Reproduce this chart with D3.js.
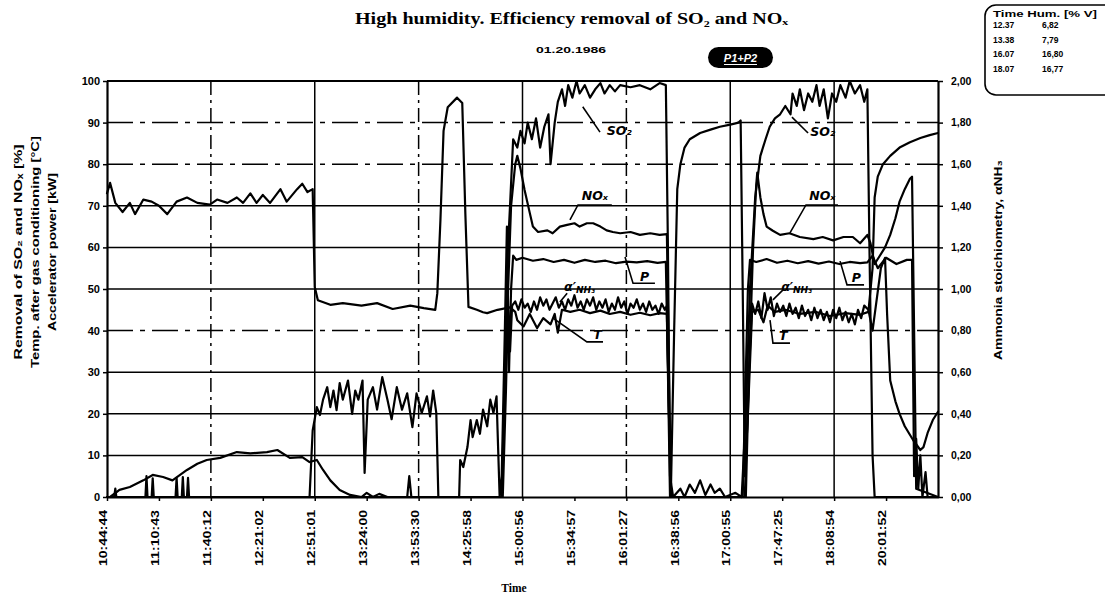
<!DOCTYPE html>
<html>
<head>
<meta charset="utf-8">
<script src="https://cdn.jsdelivr.net/npm/d3@7"></script>
<style>
  body { margin: 0; background: #fff; }
  svg { display: block; }
  .tick text { font-family: "Liberation Sans", Arial, sans-serif; font-weight: bold; fill: #000; }
</style>
</head>
<body>
<svg id="chart" width="1105" height="595"></svg>
<script>
// ---- time axis: logged samples, one label every 50 samples ----
const timeLabels = ["10:44:44","11:10:43","11:40:12","12:21:02","12:51:01","13:24:00","13:53:30","14:25:58",
                    "15:00:56","15:34:57","16:01:27","16:38:56","17:00:55","17:47:25","18:08:54","20:01:52"];
const labelEvery = 50;
const sampleTotal = 800;
const gridEvery = 100;

// ---- value axes ----
const leftTicks = [0,10,20,30,40,50,60,70,80,90,100];
const rightTicks = [0,0.2,0.4,0.6,0.8,1.0,1.2,1.4,1.6,1.8,2.0];

// ---- humidity table ----
const humidityRows = [["12.37","6,82"],["13.38","7,79"],["16.07","16,80"],["18.07","16,77"]];

// ---- series: [sample, value] ----
// temperature after gas conditioning [°C]
const tempGas = [[0,73],[3,75.5],[8,70.7],[15,68.5],[22,70.7],[27,68],[35,71.5],[43,71],[50,70],[58,68],[67,71],[77,72],
  [87,70.7],[99,70.3],[106,71.5],[116,70.7],[125,72],[131,70.7],[138,73],[144,70.7],[150,72.6],[157,70.7],[167,74],
  [173,71],[183,74],[188,75.3],[193,73.3],[198,74],[200,50.5],[203,47.3],[215,46.2],[227,46.6],[245,46],[260,46.6],
  [275,45.2],[292,46],[305,45.4],[316,45],[318,49],[321,66.6],[324,88],[328,93.7],[337,96],[342,94.7],[345,68],
  [348,45.7],[356,45],[362,44.4],[366,44.2],[376,45],[388,45.6],[393,44.5],[395,42.5],[401,41],[407,44],[414,40.6],
  [420,43],[427,41.5],[431,44],[434,39.5],[438,45],[446,44.5],[455,45],[465,44.2],[475,44.8],[484,44],[494,44.5],
  [504,43.8],[513,44.3],[523,43.7],[532,44.2],[539,44],[541,20],[543,3],[546,40],[549,74],[552,80],[556,84],[561,86],
  [571,87.5],[581,88.3],[590,89],[600,89.5],[608,90],[610,90.5],[612,50],[614,5],[617,20],[621,44.5],[627,45],
  [632,42],[636,46],[643,44.5],[653,45],[667,44],[682,44.5],[696,43.5],[711,44.2],[725,43.8],[733,44.5],[737,55],
  [739,72],[742,77],[747,80],[754,82],[763,84],[773,85.3],[783,86.3],[792,87],[800,87.5]];

// SO2 removal [%]
const removalSO2 = [[0,0],[289,0],[291,5],[293,0],[380,0],[383,30],[386,60],[388,70],[391,86],[395,84],[398,88],
  [402,85],[405,90],[409,86],[413,91],[417,84],[421,89],[425,92],[427,80],[431,90],[434,95],[438,98],[441,94],
  [444,99],[448,96],[452,100],[455,97],[460,99],[465,96],[470,98],[475,99.5],[479,97],[484,99],[489,97.5],
  [494,99],[504,98.5],[513,99],[523,98],[532,99.5],[538,99],[540,60],[542,5],[545,0],[552,2],[556,0],[561,3],
  [566,1],[571,4],[576,0.5],[581,3],[585,1],[590,2],[595,0],[605,1],[611,0],[615,20],[619,50],[624,72],[629,82],
  [634,86],[638,89],[643,91],[648,92],[653,94],[658,92],[660,97],[664,94],[667,98],[671,93],[675,97],[679,95],
  [683,99],[686,94],[690,98],[694,91],[698,97],[702,95],[706,99],[711,96],[715,100],[720,97],[725,99],[729,95],
  [732,98],[734,60],[737,10],[739,0],[800,0]];

// NOx removal [%]
const removalNOx = [[0,0],[380,0],[384,35],[389,70],[393,80],[395,82],[398,79],[402,73.8],[407,68.3],[410,65],
  [415,63.7],[424,64.1],[429,63.4],[436,65],[443,65.4],[450,65.8],[455,65],[462,65.8],[468,65.8],[475,65],
  [481,64.1],[487,63.7],[494,63.4],[504,63.7],[513,63],[523,63.4],[532,63],[539,63.2],[541,30],[543,0],[614,0],
  [618,30],[622,60],[625,75],[626,78],[629,72],[632,68],[635,65],[641,64],[648,63],[657,63.4],[667,62.5],[680,62],
  [689,62.5],[699,61.7],[709,62.5],[718,62.5],[725,61],[732,63],[735,61],[739,56],[744,58],[749,60],[754,63],
  [759,67],[763,71],[768,74],[773,76.5],[775,77],[777,40],[779,2],[800,0]];

// accelerator power [kW]
const powerAcc = [[0,0],[7,0],[8,2],[9,0],[37,0],[38,5],[39,0],[43,0],[44,4.5],[45,0],[66,0],[67,4.6],[68,0],[72,0],
  [73,4.8],[74,0],[77,0],[78,4.6],[79,0],[195,0],[198,16],[202,21.6],[205,19.7],[208,23.4],[212,26.4],[215,21.6],
  [218,25.6],[221,20.9],[224,27.4],[227,23.4],[232,28],[236,20],[239,25.6],[242,23.4],[246,28],[248,5.8],[251,23.4],
  [256,26.4],[260,21],[265,28.8],[270,23.4],[274,18.7],[279,26.4],[284,21],[289,24.9],[294,16.8],[298,24.9],
  [303,20.2],[308,24.2],[311,19.4],[314,25.6],[317,20.2],[319,0],[339,0],[340,8.9],[343,7.2],[347,12],[350,18.5],
  [352,14.4],[356,18.5],[359,15.2],[362,21],[366,17],[369,23.4],[372,20.2],[375,24.2],[376,16],[378,0],[380,5],
  [383,40],[385,65],[387,30],[389,50],[391,58],[394,57],[400,57.5],[410,56.8],[420,57.2],[430,56.5],[440,57],
  [450,56.3],[460,57],[470,56.5],[480,56.8],[490,56.2],[500,56.6],[510,56.4],[520,56.7],[530,56.3],[538,56.5],
  [540,30],[542,0],[612,0],[615,30],[617,50],[619,57],[625,56.5],[635,57.2],[645,56.3],[655,56.8],[665,56.2],
  [675,56.7],[685,56.1],[695,56.6],[705,56],[715,56.5],[725,56.2],[732,56.4],[737,58],[742,55],[750,57.5],
  [760,56],[770,57],[775,57],[777,5],[779,14],[781,2],[783,10],[785,0],[788,6],[790,0],[800,0]];

// ammonia stoichiometry (right axis)
const stoichNH3 = [[0,0],[3,0],[12,0.034],[22,0.048],[35,0.08],[44,0.106],[54,0.096],[63,0.08],[77,0.13],[87,0.16],
  [96,0.178],[109,0.188],[125,0.216],[138,0.21],[154,0.216],[164,0.226],[176,0.188],[188,0.192],[195,0.168],
  [202,0.178],[208,0.13],[215,0.08],[224,0.034],[234,0.01],[245,0],[250,0.02],[256,0],[262,0.015],[270,0],[381,0],
  [384,0.5],[386,0.9],[388,0.7],[390,0.92],[393,0.94],[396,0.9],[399,0.95],[402,0.91],[405,0.93],[408,0.89],
  [411,0.94],[414,0.9],[417,0.96],[420,0.92],[423,0.95],[426,0.9],[429,0.93],[432,0.96],[435,0.91],[438,0.94],
  [441,0.9],[444,0.95],[447,0.92],[450,0.97],[453,0.91],[456,0.94],[459,0.9],[462,0.95],[465,0.92],[468,0.96],
  [471,0.9],[474,0.94],[477,0.91],[480,0.95],[483,0.89],[486,0.93],[489,0.9],[492,0.96],[495,0.91],[498,0.94],
  [501,0.88],[504,0.93],[507,0.91],[510,0.95],[513,0.9],[516,0.93],[519,0.89],[522,0.94],[525,0.9],[528,0.92],
  [531,0.88],[534,0.93],[537,0.9],[539,0.92],[541,0.4],[543,0],[615,0],[618,0.6],[621,0.93],[624,0.88],[627,0.94],
  [630,0.86],[633,0.98],[636,0.9],[639,0.96],[642,0.87],[645,0.93],[648,0.89],[651,0.92],[654,0.87],[657,0.93],
  [660,0.88],[663,0.91],[666,0.86],[669,0.92],[672,0.87],[675,0.9],[678,0.85],[681,0.91],[684,0.86],[687,0.9],
  [690,0.85],[693,0.89],[696,0.84],[699,0.9],[702,0.86],[705,0.91],[708,0.85],[711,0.89],[714,0.84],[717,0.88],
  [720,0.83],[723,0.9],[726,0.86],[729,0.92],[733,0.9],[737,0.8],[741,0.95],[745,1.1],[749,1.15],[751,0.88],
  [754,0.56],[759,0.46],[763,0.4],[768,0.34],[776,0.274],[783,0.226],[786,0.24],[790,0.308],[795,0.37],[800,0.41]];

// ---- layout ----
const svg = d3.select("#chart");
const plot = { left: 107, right: 938, top: 81, bottom: 497 };

const x = d3.scaleLinear().domain([0, sampleTotal]).range([plot.left, plot.right]);
const yL = d3.scaleLinear().domain([0, 100]).range([plot.bottom, plot.top]);
const yR = d3.scaleLinear().domain([0, 2]).range([plot.bottom, plot.top]);

// grid
const dashedRows = new Set([40, 80, 90]);
const dashedCols = new Set([100, 300, 500]);
const grid = svg.append("g").attr("stroke", "#000").attr("stroke-width", 1.5);
grid.selectAll("line.h").data(leftTicks.filter(v => v > 0 && v < 100)).join("line")
  .attr("x1", plot.left).attr("x2", plot.right)
  .attr("y1", d => yL(d)).attr("y2", d => yL(d))
  .attr("stroke-dasharray", d => dashedRows.has(d) ? "26,7,5,7" : null);
grid.selectAll("line.v").data(d3.range(gridEvery, sampleTotal, gridEvery)).join("line")
  .attr("y1", plot.top).attr("y2", plot.bottom)
  .attr("x1", d => x(d)).attr("x2", d => x(d))
  .attr("stroke-dasharray", d => dashedCols.has(d) ? "14,5,3,5" : null);

// frame top
svg.append("line").attr("x1", plot.left).attr("x2", plot.right)
  .attr("y1", plot.top).attr("y2", plot.top).attr("stroke", "#000").attr("stroke-width", 2);

// series
const line = yScale => d3.line().x(d => x(d[0])).y(d => yScale(d[1]));
const traces = [
  { values: tempGas, y: yL },
  { values: removalSO2, y: yL },
  { values: removalNOx, y: yL },
  { values: powerAcc, y: yL },
  { values: stoichNH3, y: yR }
];
svg.append("g").selectAll("path").data(traces).join("path")
  .attr("d", t => line(t.y)(t.values))
  .attr("fill", "none").attr("stroke", "#000").attr("stroke-width", 2.2)
  .attr("stroke-linejoin", "round").attr("stroke-linecap", "round");

// axes
const axL = svg.append("g").attr("transform", `translate(${plot.left},0)`)
  .call(d3.axisLeft(yL).tickValues(leftTicks).tickSizeInner(4).tickSizeOuter(0).tickPadding(3));
axL.selectAll("text").attr("font-size", 11);

const axR = svg.append("g").attr("transform", `translate(${plot.right},0)`)
  .call(d3.axisRight(yR).tickValues(rightTicks).tickSizeInner(5).tickSizeOuter(0).tickPadding(8)
    .tickFormat(d => d3.format(".2f")(d).replace(".", ",")));
axR.selectAll("text").attr("font-size", 10.5);

const axB = svg.append("g").attr("transform", `translate(0,${plot.bottom})`)
  .call(d3.axisBottom(x).tickValues(d3.range(0, sampleTotal, labelEvery)).tickSizeInner(4).tickSizeOuter(0)
    .tickFormat((d, i) => timeLabels[i]));
axB.selectAll("text")
  .attr("transform", "rotate(-90)")
  .attr("text-anchor", "end").attr("x", -13).attr("y", -4).attr("dy", "0.35em")
  .attr("font-size", 10.5)
  .attr("textLength", 56).attr("lengthAdjust", "spacingAndGlyphs");

[axL, axR, axB].forEach(a => {
  a.select(".domain").attr("stroke", "#000").attr("stroke-width", 2.2);
  a.selectAll(".tick line").attr("stroke", "#000").attr("stroke-width", 1.5);
});

// titles
const sans = "'Liberation Sans', Arial, sans-serif";
const serif = "'Liberation Serif', 'Times New Roman', serif";

svg.append("text").attr("x", 355).attr("y", 24)
  .attr("font-family", serif).attr("font-weight", "bold").attr("font-size", 16)
  .attr("textLength", 433).attr("lengthAdjust", "spacingAndGlyphs")
  .text("High humidity. Efficiency removal of SO₂ and NOₓ");

svg.append("text").attr("x", 571).attr("y", 53).attr("text-anchor", "middle")
  .attr("font-family", sans).attr("font-weight", "bold").attr("font-size", 9.5)
  .attr("textLength", 70).attr("lengthAdjust", "spacingAndGlyphs")
  .text("01.20.1986");

// beam configuration badge
svg.append("rect").attr("x", 708).attr("y", 47).attr("width", 65).attr("height", 21).attr("rx", 10.5)
  .attr("fill", "#000");
svg.append("text").attr("x", 740.5).attr("y", 61.5).attr("text-anchor", "middle")
  .attr("font-family", sans).attr("font-weight", "bold").attr("font-style", "italic").attr("font-size", 11)
  .attr("fill", "#fff").text("P1+P2");
svg.append("line").attr("x1", 724).attr("x2", 757).attr("y1", 64.5).attr("y2", 64.5)
  .attr("stroke", "#fff").attr("stroke-width", 1);

// left axis title (three lines)
const leftTitles = ["Removal of SO₂ and NOₓ [%]", "Temp. after gas conditioning [°C]", "Accelerator power [kW]"];
const leftTitleX = [18, 35, 52];
const leftTitleLen = [215, 232, 158];
leftTitles.forEach((t, i) => {
  svg.append("text")
    .attr("transform", `translate(${leftTitleX[i]},252) rotate(-90)`)
    .attr("text-anchor", "middle").attr("dy", "0.35em")
    .attr("font-family", sans).attr("font-weight", "bold").attr("font-size", 11.5)
    .attr("textLength", leftTitleLen[i]).attr("lengthAdjust", "spacingAndGlyphs")
    .text(t);
});

// right axis title
svg.append("text")
  .attr("transform", "translate(998,260) rotate(-90)")
  .attr("text-anchor", "middle").attr("dy", "0.35em")
  .attr("font-family", sans).attr("font-weight", "bold").attr("font-size", 11.5)
  .attr("textLength", 200).attr("lengthAdjust", "spacingAndGlyphs")
  .text("Ammonia stoichiometry, αNH₃");

// x axis title
svg.append("text").attr("x", 514).attr("y", 592).attr("text-anchor", "middle")
  .attr("font-family", serif).attr("font-weight", "bold").attr("font-size", 11.5)
  .text("Time");

// humidity table
const tbl = svg.append("g");
tbl.append("rect").attr("x", 985).attr("y", 5).attr("width", 135).attr("height", 90).attr("rx", 11)
  .attr("fill", "none").attr("stroke", "#000").attr("stroke-width", 1.6);
tbl.append("text").attr("x", 993).attr("y", 17)
  .attr("font-family", sans).attr("font-weight", "bold").attr("font-size", 9)
  .attr("textLength", 104).attr("lengthAdjust", "spacingAndGlyphs")
  .text("Time  Hum.  [% V]");
humidityRows.forEach((r, i) => {
  const yy = 28 + i * 14.5;
  tbl.append("text").attr("x", 993).attr("y", yy)
    .attr("font-family", sans).attr("font-weight", "bold").attr("font-size", 8.5).text(r[0]);
  tbl.append("text").attr("x", 1042).attr("y", yy)
    .attr("font-family", sans).attr("font-weight", "bold").attr("font-size", 8.5).text(r[1]);
});

// handwritten trace labels with leader lines (sample, value on left scale)
const notes = [
  { label: "SO₂", at: [481, 87], lead: [[458, 93.8], [474.6, 87.7]] },
  { label: "NOₓ", at: [457, 71.3], lead: [[445.7, 66.6], [453.4, 70.2], [486, 70.2]] },
  { label: "α′", sub: "NH₃", at: [440, 49.5], lead: [[443, 49], [436, 46.9]] },
  { label: "P", at: [513, 52], lead: [[498.7, 57.7], [506.4, 51.4], [527.5, 51.4]] },
  { label: "T", at: [468, 38], lead: [[429.4, 43], [462, 37.3], [477.5, 37.3]] },
  { label: "SO₂", at: [677, 86.8], lead: [[659.4, 91.3], [674.9, 87.5]] },
  { label: "NOₓ", at: [676, 71.3], lead: [[657.5, 63.5], [672.9, 70.2], [703.7, 70.2]] },
  { label: "α′", sub: "NH₃", at: [649, 49.5], lead: [[650.8, 49.8], [641.1, 47.4]] },
  { label: "P", at: [717, 51.8], lead: [[705.7, 56.7], [712.4, 51], [728.8, 51]] },
  { label: "T", at: [647, 37.7], lead: [[638.3, 42.5], [641.1, 37], [657.5, 37]] }
];
const noteG = svg.append("g");
noteG.selectAll("path").data(notes).join("path")
  .attr("d", n => d3.line().x(d => x(d[0])).y(d => yL(d[1]))(n.lead))
  .attr("fill", "none").attr("stroke", "#000").attr("stroke-width", 1.6);
notes.forEach(n => {
  const t = noteG.append("text").attr("x", x(n.at[0])).attr("y", yL(n.at[1]))
    .attr("font-family", "'DejaVu Sans', sans-serif").attr("font-style", "italic").attr("font-weight", "bold")
    .attr("font-size", 12.5).text(n.label);
  if (n.sub) t.append("tspan").attr("font-size", 9).attr("dy", 2).text(n.sub);
});
</script>
</body>
</html>
